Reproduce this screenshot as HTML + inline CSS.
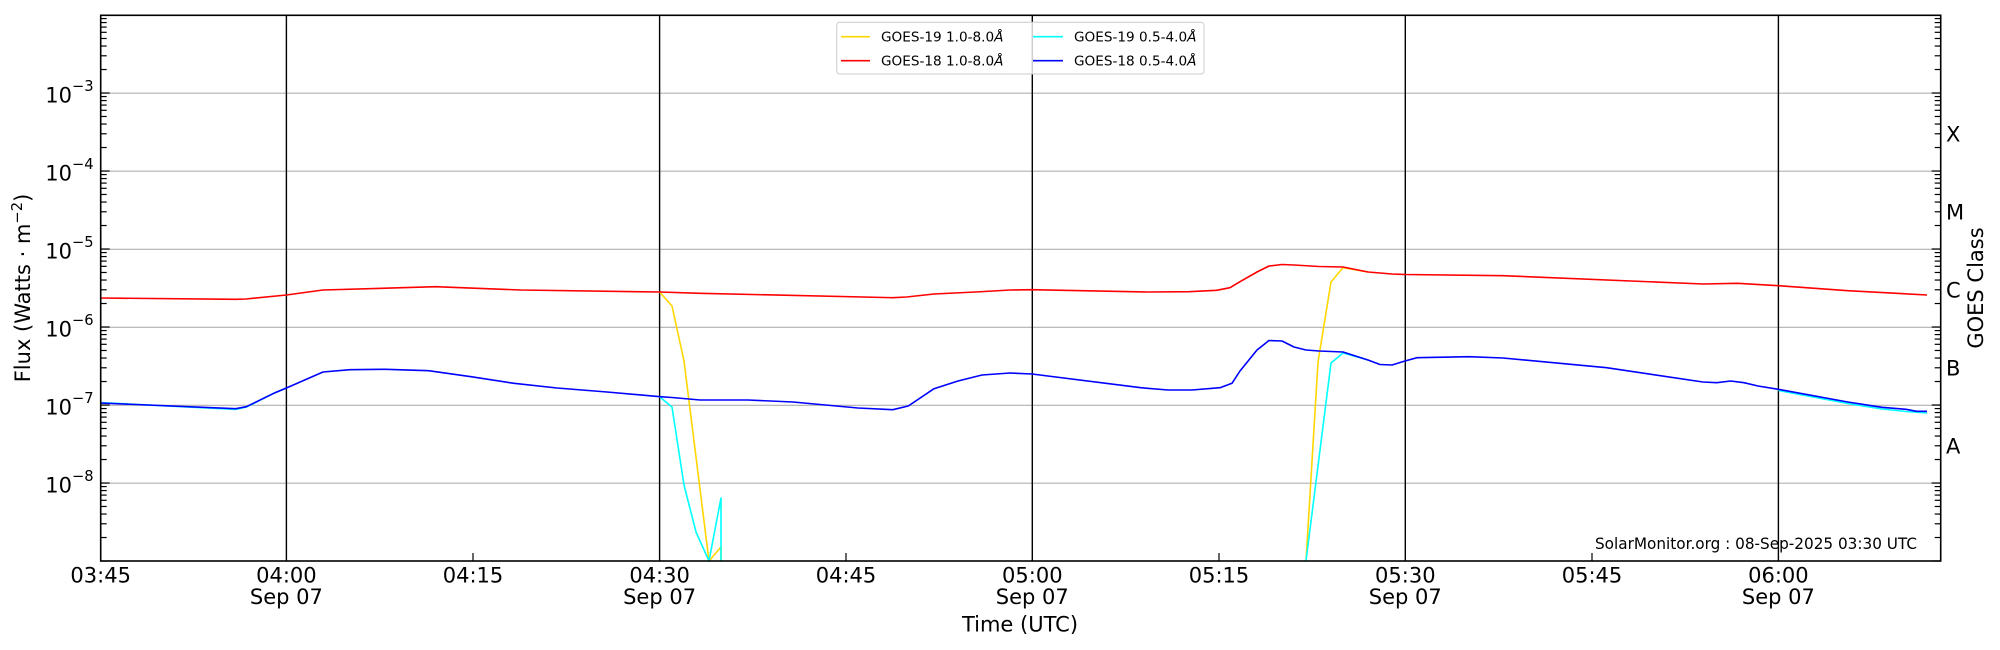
<!DOCTYPE html>
<html><head><meta charset="utf-8"><style>
html,body{margin:0;padding:0;background:#fff;}
svg{display:block;font-family:"DejaVu Sans","Liberation Sans",sans-serif;}
</style></head><body>
<svg width="2000" height="650" viewBox="0 0 2000 650" xmlns="http://www.w3.org/2000/svg">
<rect width="2000" height="650" fill="#fff"/>
<g stroke="#b0b0b0" stroke-width="1.2">
<line x1="100.7" y1="93.2" x2="1940.7" y2="93.2"/>
<line x1="100.7" y1="171.2" x2="1940.7" y2="171.2"/>
<line x1="100.7" y1="249.3" x2="1940.7" y2="249.3"/>
<line x1="100.7" y1="327.3" x2="1940.7" y2="327.3"/>
<line x1="100.7" y1="405.3" x2="1940.7" y2="405.3"/>
<line x1="100.7" y1="483.2" x2="1940.7" y2="483.2"/>
</g>
<g stroke="#000" stroke-width="1.4">
<line x1="286.4" y1="15.3" x2="286.4" y2="561"/>
<line x1="659.6" y1="15.3" x2="659.6" y2="561"/>
<line x1="1032.3" y1="15.3" x2="1032.3" y2="561"/>
<line x1="1405.3" y1="15.3" x2="1405.3" y2="561"/>
<line x1="1778.4" y1="15.3" x2="1778.4" y2="561"/>
</g>
<g id="ticks" stroke="#000" stroke-width="1.2"></g>
<g fill="none" stroke-width="1.6" stroke-linejoin="round">
<polyline stroke="#FFD700" points="659.6,292 672,306 684,361 709,561 721,547 721,561"/>
<polyline stroke="#FFD700" points="1306,561 1318,362 1331,282 1343,267.7 1368,272"/>
<polyline stroke="#FF0000" points="100,298 235.7,299.3 246,299 286.4,295 323,290 435.7,286.7 521,290 660,292 700,293.3 892.8,297.7 906.6,297 934,294 975.5,292 1010,290 1032,289.7 1147.7,292 1189,291.7 1216.5,290.3 1230,287.7 1240,281.7 1257,272 1269,266 1282,264.5 1294,265 1319,266.5 1343,267 1368,272 1392,274 1405,274.5 1503,275.7 1703,284 1737.5,283.3 1778.4,285.7 1847.7,290.7 1927,295"/>
<polyline stroke="#00FFFF" points="100,402.5 235.7,409.5 246.4,407 275,392.7 286.4,388"/>
<polyline stroke="#00FFFF" points="659.6,396.7 672,407 684,485 696,532 709,561 721,498 721,561"/>
<polyline stroke="#00FFFF" points="1306,561 1331,363 1343,353 1368,360"/>
<polyline stroke="#00FFFF" points="1778.4,390.5 1847.7,403.5 1882,409 1906,411.5 1927,413"/>
<polyline stroke="#0000FF" points="100,403 235.7,408.7 246.4,406.7 275,392.7 286.4,388 323,372 350,369.7 385.7,369.3 428.6,370.7 471,376.7 514,383.3 557,388 607,392 660,396.7 672,397.5 700,400 748,400 793,402 858,408 892.8,409.7 908.3,406 934,388.7 958,381 982,375 1010,373 1032,374 1140.8,387.7 1168,390 1192,390 1220,387.7 1232,383.3 1240,371 1257,350 1269,340.5 1282,341 1294,347 1306,350 1319,351 1343,352 1368,360 1380,364.5 1392,365 1405,361 1417,357.7 1469,356.7 1503,358 1606.6,367.7 1703,382 1716.8,382.7 1730.6,381 1744,382.7 1758,386 1778.4,389.3 1847.7,402 1882,407.3 1906,409.3 1916.5,411.3 1927,411.3"/>
</g>
<rect x="100.7" y="15.3" width="1840" height="545.7" fill="none" stroke="#000" stroke-width="1.6"/>
<g>
<rect x="836.7" y="22.3" width="367.3" height="51.7" rx="3" fill="#fff" fill-opacity="0.8" stroke="#cccccc" stroke-width="1"/>
<line x1="841" y1="36.7" x2="870" y2="36.7" stroke="#FFD700" stroke-width="1.6"/>
<line x1="841" y1="60.7" x2="870" y2="60.7" stroke="#FF0000" stroke-width="1.6"/>
<line x1="1033" y1="36.7" x2="1063" y2="36.7" stroke="#00FFFF" stroke-width="1.6"/>
<line x1="1033" y1="60.7" x2="1063" y2="60.7" stroke="#0000FF" stroke-width="1.6"/>
<g font-size="13.6" fill="#000">
<text x="881" y="41.7">GOES-19 1.0-8.0<tspan font-style="italic">Å</tspan></text>
<text x="881" y="65.7">GOES-18 1.0-8.0<tspan font-style="italic">Å</tspan></text>
<text x="1074" y="41.7">GOES-19 0.5-4.0<tspan font-style="italic">Å</tspan></text>
<text x="1074" y="65.7">GOES-18 0.5-4.0<tspan font-style="italic">Å</tspan></text>
</g>
</g>
<g font-size="21" fill="#000" text-anchor="middle">
<text x="100.7" y="582.5">03:45</text>
<text x="286.4" y="582.5">04:00</text><text x="286.4" y="604">Sep 07</text>
<text x="473" y="582.5">04:15</text>
<text x="659.6" y="582.5">04:30</text><text x="659.6" y="604">Sep 07</text>
<text x="846" y="582.5">04:45</text>
<text x="1032.3" y="582.5">05:00</text><text x="1032.3" y="604">Sep 07</text>
<text x="1219" y="582.5">05:15</text>
<text x="1405.3" y="582.5">05:30</text><text x="1405.3" y="604">Sep 07</text>
<text x="1592" y="582.5">05:45</text>
<text x="1778.4" y="582.5">06:00</text><text x="1778.4" y="604">Sep 07</text>
<text x="1020" y="631.5">Time (UTC)</text>
<text transform="translate(30,288) rotate(-90)">Flux (Watts · m<tspan font-size="14.7" dy="-8">−2</tspan><tspan dy="8">)</tspan></text>
<text transform="translate(1983,288) rotate(-90)">GOES Class</text>
</g>
<g font-size="21" fill="#000">
<text x="1946" y="141.5">X</text>
<text x="1946" y="219.5">M</text>
<text x="1946" y="297.5">C</text>
<text x="1946" y="375.5">B</text>
<text x="1946" y="453.5">A</text>
</g>
<g id="ylab" fill="#000"></g>
<text x="1595" y="549" font-size="16" fill="#000" textLength="322" lengthAdjust="spacingAndGlyphs">SolarMonitor.org : 08-Sep-2025 03:30 UTC</text>
</svg>
<script>
(function(){
var NS="http://www.w3.org/2000/svg";
var t=document.getElementById("ticks"), yl=document.getElementById("ylab");
function ln(x1,y1,x2,y2){var l=document.createElementNS(NS,"line");l.setAttribute("x1",x1);l.setAttribute("y1",y1);l.setAttribute("x2",x2);l.setAttribute("y2",y2);t.appendChild(l);}
var L=100.7,R=1940.7;
for(var d=-9;d<=-2;d++){
  var y0=561-( d+9)*78;
  if(d<-2){ln(L,y0,L+9,y0);ln(R,y0,R-9,y0);}
  if(d<-2){for(var m=2;m<=9;m++){var y=y0-Math.log10(m)*78;if(y<15.3)continue;ln(L,y,L+6,y);ln(R,y,R-6,y);}}
}
var xs=[473,846,1219,1592];
xs.forEach(function(x){ln(x,561,x,553);});
for(var e=3;e<=8;e++){
  var y=561-(9-e)*78;
  var tx=document.createElementNS(NS,"text");
  tx.setAttribute("x",72);tx.setAttribute("y",y+9.5);tx.setAttribute("font-size","21");tx.setAttribute("text-anchor","end");
  tx.textContent="10";yl.appendChild(tx);
  var s=document.createElementNS(NS,"text");
  s.setAttribute("x",72);s.setAttribute("y",y-2);s.setAttribute("font-size","14.7");
  s.textContent="−"+e;yl.appendChild(s);
}
})();
</script>
</body></html>
